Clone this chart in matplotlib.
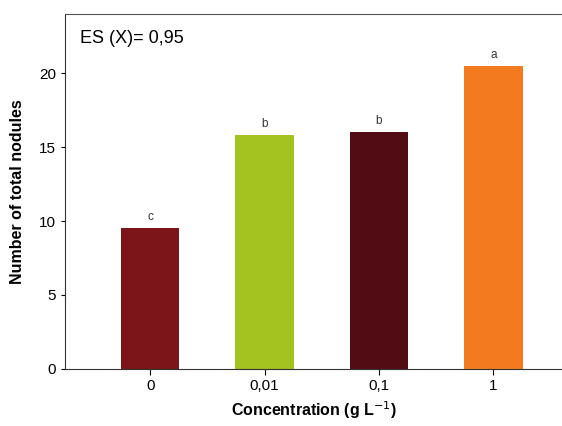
import matplotlib.pyplot as plt
import numpy as np

plt.rcParams['font.family'] = ['Liberation Sans', 'DejaVu Sans']

conc = ['0', '0,01', '0,1', '1']
nodules = [9.5, 15.8, 16.0, 20.5]
letters = ['c', 'b', 'b', 'a']
colors = ['#7B1519', '#A4C31F', '#520C14', '#F47A20']

fig = plt.figure(figsize=(5.62, 4.26), dpi=100)
ax = fig.add_axes([0.1157, 0.134, 0.8843, 0.833])

x = np.arange(len(conc))
ax.bar(x, nodules, width=0.51, color=colors)
for xi, v, l in zip(x, nodules, letters):
    ax.text(xi, v + 0.35, l, ha='center', va='bottom', fontsize=8.5, color='#333333')

ax.set_xlim(-0.745, 3.6)
ax.set_ylim(0, 24)
ax.set_xticks(x)
ax.set_xticklabels(conc, fontsize=11)
ax.set_yticks([0, 5, 10, 15, 20])
ax.tick_params(axis='y', labelsize=11, length=3)
ax.tick_params(axis='x', length=4)
ax.spines['right'].set_visible(False)
for s in ['top', 'left', 'bottom']:
    ax.spines[s].set_color('#333333')
ax.spines['top'].set_color('#555555')

ax.set_ylabel('Number of total nodules', fontsize=11.5, fontweight='bold', labelpad=10)
ax.set_xlabel('Concentration (g L$^{-1}$)', fontsize=11.5, fontweight='bold', labelpad=4)
ax.text(0.03, 0.93, 'ES (X)= 0,95', transform=ax.transAxes, fontsize=13, va='center')

fig.savefig('out.png', dpi=100)
